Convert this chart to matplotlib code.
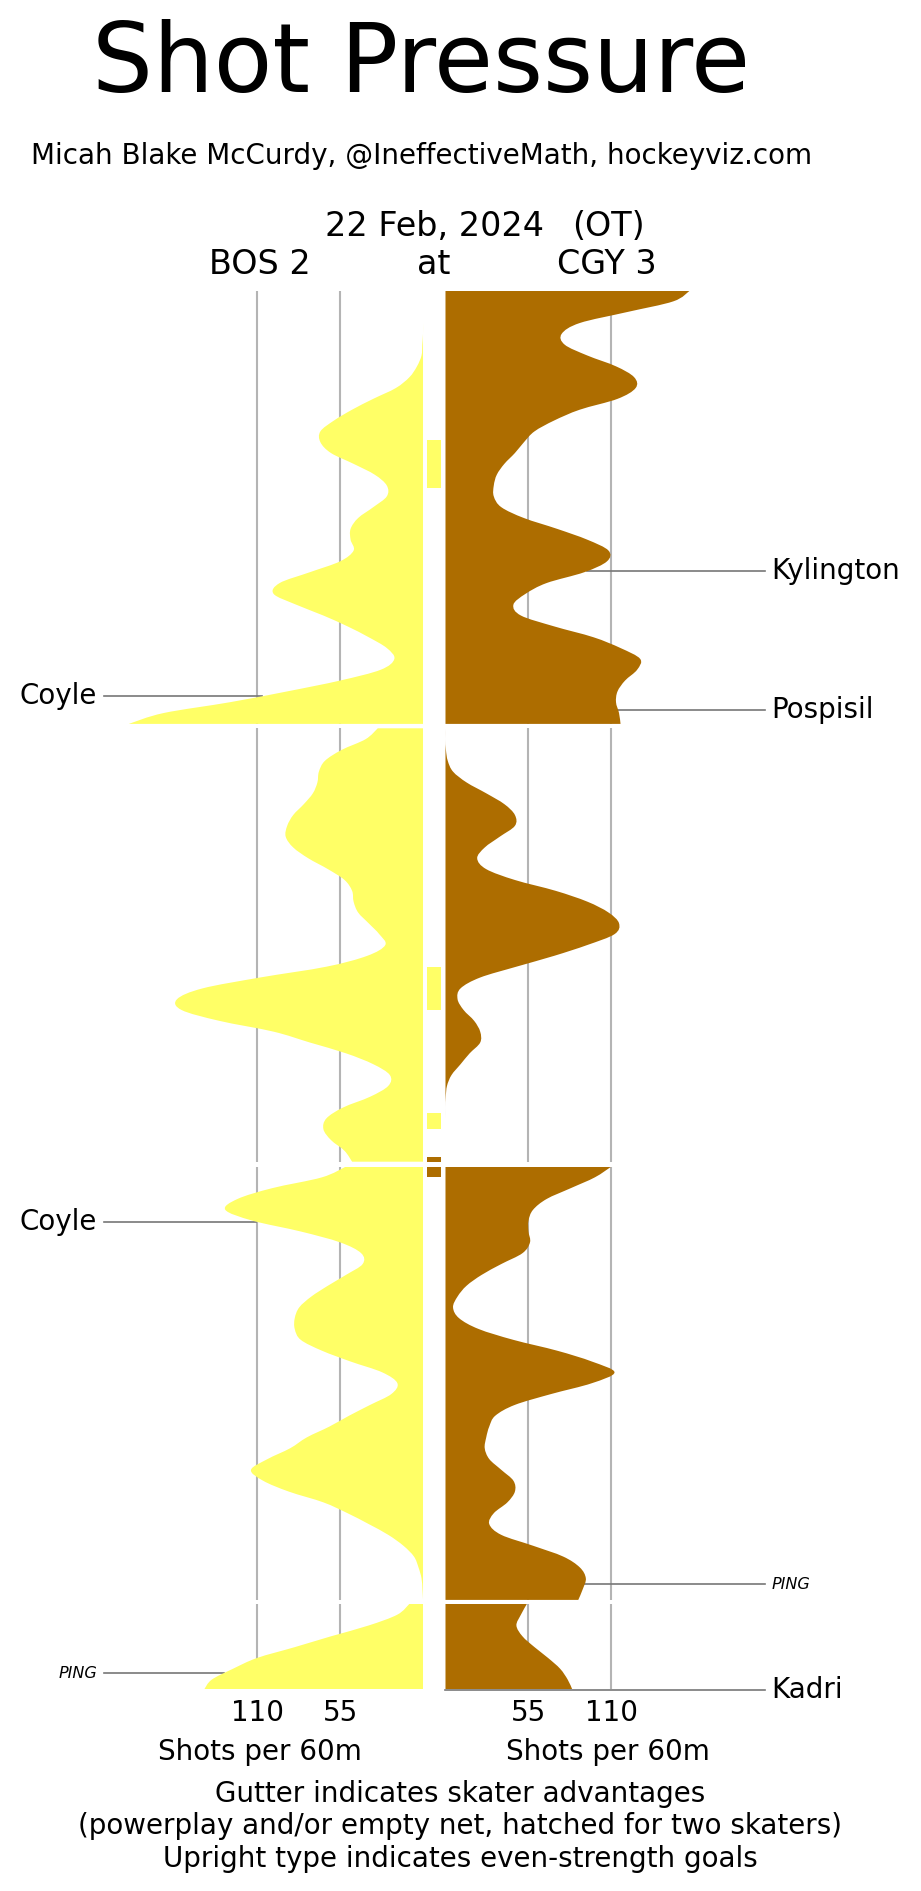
import matplotlib
matplotlib.use('Agg')
import matplotlib.pyplot as plt
from matplotlib.patches import Rectangle, PathPatch
from matplotlib.path import Path
from matplotlib.transforms import blended_transform_factory
import numpy as np

#------------------------------------------------------------------------------
# smoothed shot rates (shots per 60m), read every half minute
t_reg = np.arange(0, 20.5, 0.5)
bos_p1 = [0, 0, 0, 0, 0, 0.5, 1, 4, 9, 18, 33, 47, 59, 68, 68, 61, 46, 32, 24, 24,
          33, 43, 48, 48, 46, 55, 75, 95, 99, 84, 66, 50, 36, 24, 19, 28, 55, 90, 128, 172, 195]
cgy_p1 = [162, 151, 120, 89, 77, 79, 94, 113, 125, 126, 114, 89, 72, 59, 52, 46, 39, 34, 32, 32,
          37, 52, 74, 94, 108, 107, 92, 67, 53, 45, 50, 72, 98, 116, 129, 127, 119, 114, 113, 115, 116]
bos_p2 = [30, 38, 54, 65, 69, 70, 73, 79, 86, 90, 91, 86, 76, 63, 52, 47, 46, 43, 36, 29,
          25, 37, 64, 108, 146, 163, 160, 135, 99, 75, 51, 33, 22, 23, 35, 53, 64, 66, 61, 52, 47]
cgy_p2 = [0, 0, 0.3, 1.5, 5, 14, 27, 39, 46, 46, 36, 26, 21, 27, 46, 73, 94, 108, 115, 112,
          94, 72, 47, 23, 10, 8, 12, 19, 23, 23, 16, 10, 4, 1, 0.2, 0, 0, 0, 0, 0, 0]
bos_p3 = [51, 67, 100, 123, 131, 113, 81, 55, 41, 40, 51, 63, 74, 82, 85, 85, 81, 67, 48, 27,
          17, 21, 35, 49, 62, 77, 88, 103, 114, 106, 89, 66, 50, 36, 23, 13, 6, 3, 1, 0.4, 0]
cgy_p3 = [110, 99, 83, 67, 58, 55, 55, 56, 51, 37, 24, 14, 8, 5, 9, 22, 45, 74, 97, 112,
          97, 70, 46, 33, 29, 27, 26, 29, 37, 45, 46, 41, 32, 29, 37, 58, 78, 89, 93, 91, 88]
t_ot = [0, 0.5, 1, 1.5, 2, 2.5, 3, 3.5, 3.95]
bos_ot = [9, 17, 36, 61, 85, 110, 126, 140, 145]
cgy_ot = [54, 50, 47, 51, 59, 68, 76, 81, 84]

# skater advantages in the gutter: (period index, start, end, team)
adv_period = [0, 1, 1, 1, 2]
adv_start = [6.89, 11.03, 17.74, 19.80, 0.0]
adv_end = [9.10, 13.00, 18.48, 20.0, 0.47]
adv_team = ['BOS', 'BOS', 'BOS', 'CGY', 'CGY']

# goals: (period index, time, team, scorer, even strength)
goal_period = [0, 2, 3, 0, 0, 2, 3]
goal_time = [18.72, 2.54, 3.20, 12.93, 19.37, 19.27, 3.96]
goal_team = ['BOS', 'BOS', 'BOS', 'CGY', 'CGY', 'CGY', 'CGY']
goal_name = ['Coyle', 'Coyle', 'PING', 'Kylington', 'Pospisil', 'PING', 'Kadri']
goal_even = [True, True, False, True, True, False, True]

grid_vals = [55, 110]
#------------------------------------------------------------------------------
W, H = 921, 1891
yellow = '#ffff66'
brown = '#ad6d00'
px_per_shot = 1.509
centre = 434.25
half_gap = 7.45

fig = plt.figure(figsize=(W / 100, H / 100), dpi=100)
fig.patch.set_facecolor('white')

xmin = -centre / px_per_shot
xmax = (W - centre) / px_per_shot


def smooth_fill(ax, times, vals, base, sign, color):
    # area from the zero line out to the rate curve; the curve goes through
    # every read point, drawn as cubic bezier pieces (catmull-rom handles)
    p = np.column_stack([base + sign * np.asarray(vals, dtype=float),
                         np.asarray(times, dtype=float)])
    n = len(p)
    verts = [(base, p[0, 1]), tuple(p[0])]
    codes = [Path.MOVETO, Path.LINETO]
    for i in range(n - 1):
        a = p[i - 1] if i > 0 else p[i]
        d = p[i + 2] if i + 2 < n else p[i + 1]
        c1 = p[i] + (p[i + 1] - a) / 6
        c2 = p[i + 1] - (d - p[i]) / 6
        verts += [tuple(c1), tuple(c2), tuple(p[i + 1])]
        codes += [Path.CURVE4] * 3
    verts += [(base, p[-1, 1]), (base, p[0, 1])]
    codes += [Path.LINETO, Path.CLOSEPOLY]
    ax.add_patch(PathPatch(Path(verts, codes), facecolor=color, lw=0, zorder=2))


periods = [
    (t_reg, bos_p1, cgy_p1, 20, 290.5),
    (t_reg, bos_p2, cgy_p2, 20, 728.3),
    (t_reg, bos_p3, cgy_p3, 20, 1166.5),
    (t_ot, bos_ot, cgy_ot, 3.95, 1603.8),
]
min_px = 21.67

axes = []
for times, bos, cgy, length, top in periods:
    h = length * min_px
    ax = fig.add_axes([0, 1 - (top + h) / H, 1, h / H])
    ax.set_xlim(xmin, xmax)
    ax.set_ylim(length, 0)
    ax.patch.set_alpha(0)
    for s in ax.spines.values():
        s.set_visible(False)
    ax.set_xticks([])
    ax.set_yticks([])
    for g in grid_vals:
        ax.axvline(-half_gap - g, color='#b4b4b4', lw=1.5, zorder=0)
        ax.axvline(half_gap + g, color='#b4b4b4', lw=1.5, zorder=0)
    smooth_fill(ax, times, bos, -half_gap, -1, yellow)
    smooth_fill(ax, times, cgy, half_gap, 1, brown)
    axes.append(ax)

#--------------gutter markers--------------------------------------------------
for p, s, e, team in zip(adv_period, adv_start, adv_end, adv_team):
    c = yellow if team == 'BOS' else brown
    axes[p].add_patch(Rectangle((-4.8, s), 9.4, e - s, color=c, lw=0, zorder=3))

#--------------goal annotations------------------------------------------------
for p, t, team, name, even in zip(goal_period, goal_time, goal_team, goal_name, goal_even):
    times, bos, cgy, length, top = periods[p]
    fs = 20 if even else 11.5
    st = 'normal' if even else 'italic'
    if team == 'BOS':
        edge = np.interp(t, times, bos, right=0)
        axes[p].plot([-219, -half_gap - edge], [t, t], color='#777777', lw=1.2, zorder=1,
                     clip_on=False)
        axes[p].text(-223.5, t, name, ha='right', va='center', fontsize=fs, style=st)
    else:
        edge = np.interp(t, times, cgy, right=0)
        axes[p].plot([half_gap + edge, 219], [t, t], color='#777777', lw=1.2, zorder=1,
                     clip_on=False)
        axes[p].text(223.5, t, name, ha='left', va='center', fontsize=fs, style=st)

#--------------scale labels under the last panel-------------------------------
ax = axes[-1]
trans = blended_transform_factory(ax.transData, fig.transFigure)
for g in grid_vals:
    ax.text(-half_gap - g, 1 - 1721 / H, str(g), transform=trans, ha='center',
            va='baseline', fontsize=20)
    ax.text(half_gap + g, 1 - 1721 / H, str(g), transform=trans, ha='center',
            va='baseline', fontsize=20)


def ftext(x, y, s, **kw):
    fig.text(x / W, 1 - y / H, s, ha='center', va='baseline', **kw)


ftext(421.5, 92, 'Shot Pressure', fontsize=69)
ftext(421.5, 164, 'Micah Blake McCurdy, @IneffectiveMath, hockeyviz.com', fontsize=20)
ftext(434, 236, '22 Feb, 2024', fontsize=24)
ftext(608, 236, '(OT)', fontsize=24)
ftext(259.7, 274, 'BOS 2', fontsize=24)
ftext(434, 274, 'at', fontsize=24)
ftext(607, 274, 'CGY 3', fontsize=24)
ftext(260, 1760, 'Shots per 60m', fontsize=20)
ftext(608, 1760, 'Shots per 60m', fontsize=20)
ftext(460, 1802, 'Gutter indicates skater advantages', fontsize=20)
ftext(460, 1834.5, '(powerplay and/or empty net, hatched for two skaters)', fontsize=20)
ftext(460, 1867, 'Upright type indicates even-strength goals', fontsize=20)

plt.savefig('out.png', dpi=100)
